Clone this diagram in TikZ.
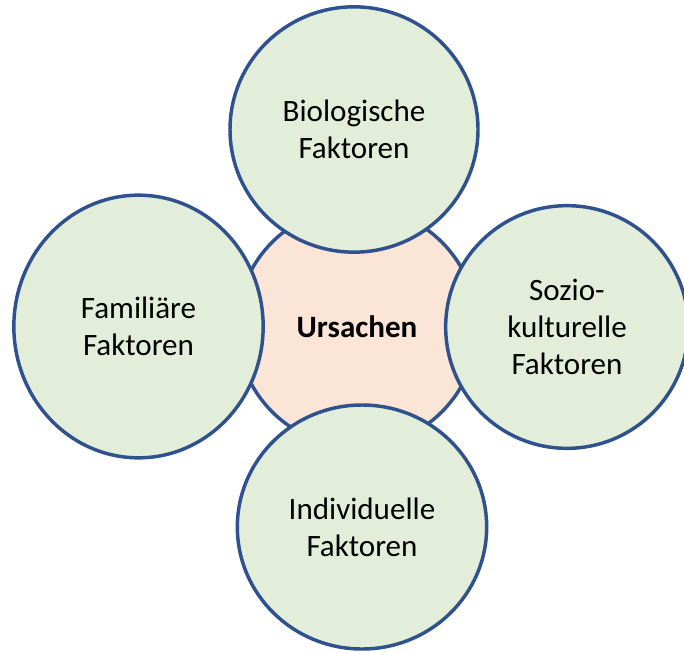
\documentclass[tikz,border=0pt]{standalone}
\usepackage{fontspec}
\setmainfont{Carlito}
\usetikzlibrary{shapes.geometric}
\definecolor{ringblue}{RGB}{47,82,143}
\definecolor{softgreen}{RGB}{226,238,217}
\definecolor{softpink}{RGB}{251,229,214}

\begin{document}
\begin{tikzpicture}[
  x=0.75pt, y=-0.75pt,
  font=\fontsize{23.3}{27.8}\selectfont,
  bubble/.style={ellipse, draw=ringblue, line width=2.6pt, align=center, inner sep=0pt},
  factor/.style={bubble, fill=softgreen, minimum width=186pt, minimum height=184pt},
  cause/.style={bubble, fill=softpink, minimum width=180pt, minimum height=180pt, font=\fontsize{23.3}{27.8}\selectfont\bfseries}
]
\useasboundingbox (0,0) rectangle (684,652);

% Centre
\node[cause] (ursachen) at (357,327) {Ursachen};

% Factors round it
\node[factor] (bio) at (354,129.5) {Biologische\\Faktoren};
\node[factor, minimum width=187pt, minimum height=197pt] (fam) at (138.5,326.5) {Familiäre\\Faktoren};
\node[factor, minimum width=182pt, minimum height=182pt] (sozio) at (567,327) {Sozio-\\kulturelle\\Faktoren};
\node[factor, minimum width=187pt, minimum height=183pt] (indiv) at (362,527) {Individuelle\\Faktoren};

\end{tikzpicture}
\end{document}
